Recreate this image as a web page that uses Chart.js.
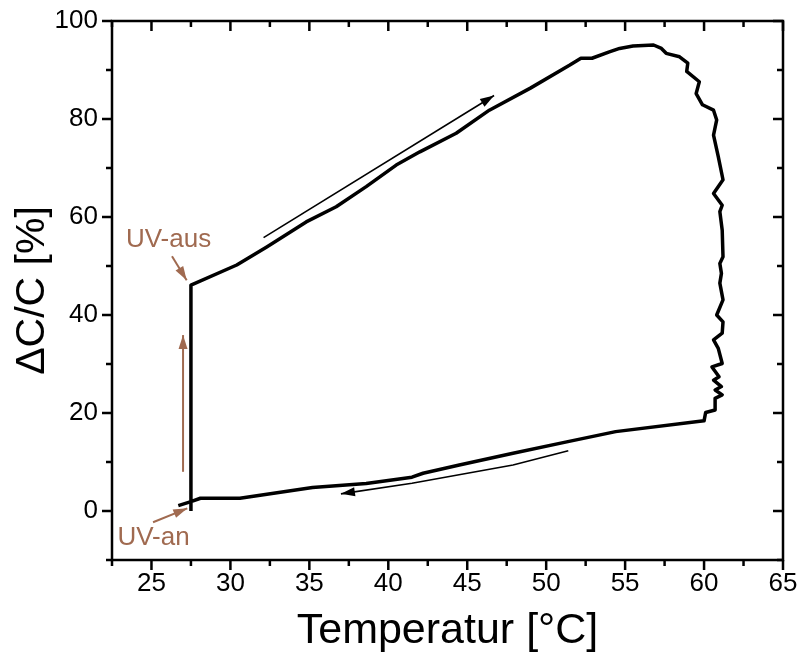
<!DOCTYPE html>
<html>
<head>
<meta charset="utf-8">
<script src="https://cdn.jsdelivr.net/npm/chart.js@4"></script>
<style>
  body { margin: 0; background: #fff; }
  canvas { display: block; }
</style>
</head>
<body>
<canvas id="myChart" width="799" height="656"></canvas>
<script>
// axis ticks
const xTicks = [25, 30, 35, 40, 45, 50, 55, 60, 65];
const xMinor = [22.5, 27.5, 32.5, 37.5, 42.5, 47.5, 52.5, 57.5, 62.5];
const yTicks = [0, 20, 40, 60, 80, 100];
const yMinor = [-10, 10, 30, 50, 70, 90];

// hysteresis loop: UV on at 27.5 °C, heat up, cool down
const loopT = [27.5, 27.5, 30.4, 32.3, 34.8, 36.7, 38.6, 40.5, 42.0, 44.3, 46.4, 49.0, 51.5, 52.2, 52.9, 54.0,
  54.65, 55.5, 56.8, 57.3, 57.6, 58.45, 58.97, 58.9, 59.7, 59.5, 59.9, 60.6, 60.8, 60.6, 60.9, 61.2, 60.6, 61.15,
  61.0, 61.15, 61.2, 61.0, 61.1, 61.0, 61.2, 60.8, 61.2, 61.15, 60.6, 60.9, 61.15, 60.5, 60.95, 60.6, 61.1, 60.7,
  61.15, 60.7, 60.7, 60.1, 60.0, 54.4, 51.3, 47.9, 44.5, 42.2, 41.5, 38.6, 35.2, 30.6, 28.1, 27.5, 26.7];
const loopC = [0, 46.1, 50.2, 53.9, 59.0, 62.1, 66.2, 70.6, 73.3, 77.1, 81.8, 86.3, 91.0, 92.4, 92.4, 93.7,
  94.4, 94.9, 95.1, 94.4, 93.4, 92.7, 91.4, 89.7, 87.6, 85.2, 82.9, 81.8, 79.8, 76.7, 72.3, 67.6, 64.8, 62.4,
  61.1, 57.3, 51.9, 50.5, 48.5, 46.5, 43.1, 40.0, 38.6, 36.3, 34.9, 33.2, 30.1, 29.4, 27.4, 26.7, 25.4, 24.7,
  23.7, 23.0, 20.6, 20.1, 18.4, 16.2, 14.1, 11.8, 9.4, 7.7, 6.9, 5.6, 4.8, 2.6, 2.6, 1.9, 1.1];

// direction arrows
const heatArrowT = [32.1, 46.7];
const heatArrowC = [55.8, 84.8];
const coolArrowT = [51.4, 47.9, 41.5, 37.0];
const coolArrowC = [12.3, 9.4, 5.65, 3.5];
const uvArrowT = [27.0, 27.0];
const uvArrowC = [8.0, 35.9];
const ausArrowT = [26.3, 27.23];
const ausArrowC = [52.0, 47.1];
const anArrowT = [25.1, 27.27];
const anArrowC = [-2.3, 0.55];

// notes
const noteText = ["UV-aus", "UV-an"];
const noteT = [26.08, 25.13];
const noteC = [55.3, -5.5];

const brown = "#a06a50";
const font = "'Liberation Sans', Arial, sans-serif";

const pts = (xs, ys) => xs.map((v, i) => ({ x: v, y: ys[i] }));

const arrowSet = (xs, ys, color, width) => ({
  data: pts(xs, ys),
  borderColor: color,
  backgroundColor: color,
  borderWidth: width,
  pointRadius: 0,
  showLine: true,
  tension: 0,
  arrow: true,
});

// box, inner/outer tick marks, arrow heads and notes
const extras = {
  id: "extras",
  afterDatasetsDraw(chart) {
    const { ctx, chartArea: a, scales: { x, y } } = chart;
    ctx.save();

    // arrow heads
    chart.data.datasets.forEach((ds, i) => {
      if (!ds.arrow) return;
      const meta = chart.getDatasetMeta(i);
      const n = meta.data.length;
      const p1 = meta.data[n - 2], p2 = meta.data[n - 1];
      const ang = Math.atan2(p2.y - p1.y, p2.x - p1.x);
      const len = 14, half = 4.5;
      ctx.fillStyle = ds.borderColor;
      ctx.beginPath();
      ctx.moveTo(p2.x, p2.y);
      ctx.lineTo(p2.x - len * Math.cos(ang) + half * Math.sin(ang), p2.y - len * Math.sin(ang) - half * Math.cos(ang));
      ctx.lineTo(p2.x - len * Math.cos(ang) - half * Math.sin(ang), p2.y - len * Math.sin(ang) + half * Math.cos(ang));
      ctx.closePath();
      ctx.fill();
    });

    // notes
    ctx.fillStyle = brown;
    ctx.font = "26px " + font;
    ctx.textAlign = "center";
    ctx.textBaseline = "middle";
    noteText.forEach((t, i) => {
      ctx.fillText(t, x.getPixelForValue(noteT[i]), y.getPixelForValue(noteC[i]));
    });

    // frame
    ctx.strokeStyle = "#000";
    ctx.lineWidth = 2.5;
    ctx.strokeRect(a.left, a.top, a.right - a.left, a.bottom - a.top);

    const xMarks = (vals, len) => vals.forEach((v) => {
      const px = x.getPixelForValue(v);
      ctx.beginPath();
      ctx.moveTo(px, a.bottom); ctx.lineTo(px, a.bottom + len);
      ctx.moveTo(px, a.top); ctx.lineTo(px, a.top + len);
      ctx.stroke();
    });
    const yMarks = (vals, len) => vals.forEach((v) => {
      const py = y.getPixelForValue(v);
      ctx.beginPath();
      ctx.moveTo(a.left - len, py); ctx.lineTo(a.left, py);
      ctx.moveTo(a.right - len, py); ctx.lineTo(a.right, py);
      ctx.stroke();
    });
    xMarks(xTicks, 10); xMarks(xMinor, 6);
    yMarks(yTicks, 10); yMarks(yMinor, 6);
    ctx.restore();
  },
};

const ctx = document.getElementById("myChart").getContext("2d");

new Chart(ctx, {
  type: "scatter",
  data: {
    datasets: [
      {
        data: pts(loopT, loopC),
        borderColor: "#000",
        borderWidth: 3.5,
        borderJoinStyle: "round",
        pointRadius: 0,
        showLine: true,
        tension: 0,
      },
      arrowSet(heatArrowT, heatArrowC, "#000", 1.6),
      arrowSet(coolArrowT, coolArrowC, "#000", 1.6),
      arrowSet(uvArrowT, uvArrowC, brown, 2),
      arrowSet(ausArrowT, ausArrowC, brown, 2),
      arrowSet(anArrowT, anArrowC, brown, 2),
    ],
  },
  options: {
    responsive: false,
    animation: false,
    layout: { padding: { left: 0, right: 16, top: 21, bottom: 0 } },
    plugins: { legend: { display: false }, tooltip: { enabled: false } },
    scales: {
      x: {
        type: "linear",
        min: 22.5,
        max: 65,
        afterBuildTicks: (s) => { s.ticks = xTicks.map((v) => ({ value: v })); },
        afterFit: (s) => {
          s.height = 96;
          s.paddingLeft = 0; s.paddingRight = 0;
        },
        grid: { display: false, drawTicks: false },
        border: { display: false },
        ticks: { color: "#000", font: { size: 26, family: font }, padding: 8, maxRotation: 0, autoSkip: false },
        title: {
          display: true,
          text: "Temperatur [°C]",
          color: "#000",
          font: { size: 43, family: font, lineHeight: 1 },
          padding: { top: 0, bottom: 3 },
        },
      },
      y: {
        type: "linear",
        min: -10,
        max: 100,
        afterBuildTicks: (s) => { s.ticks = yTicks.map((v) => ({ value: v })); },
        afterFit: (s) => {
          s.width = 112;
          s.paddingTop = 0; s.paddingBottom = 0;
        },
        grid: { display: false, drawTicks: false },
        border: { display: false },
        ticks: { color: "#000", font: { size: 26, family: font }, padding: 14 },
        title: {
          display: true,
          text: "ΔC/C [%]",
          color: "#000",
          font: { size: 41, family: font, lineHeight: 1 },
          padding: { top: 12, bottom: 0 },
        },
      },
    },
  },
  plugins: [extras],
});
</script>
</body>
</html>
